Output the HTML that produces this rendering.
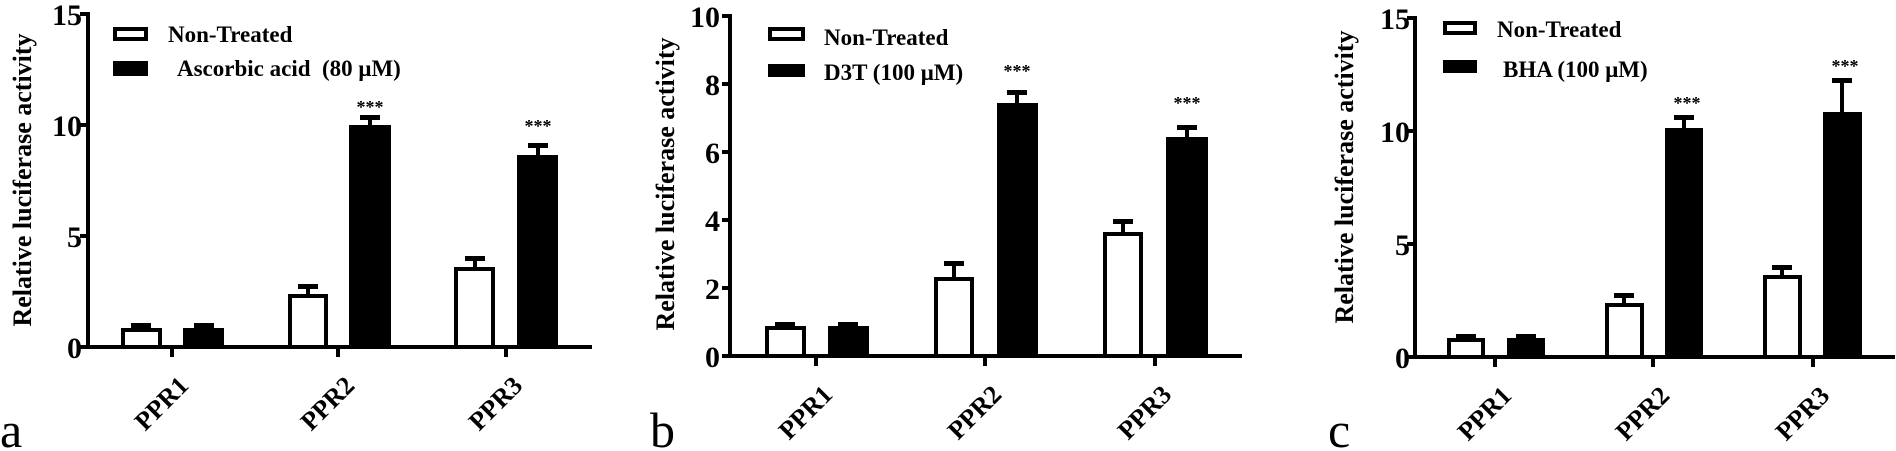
<!DOCTYPE html>
<html><head><meta charset="utf-8"><style>
html,body{margin:0;padding:0;background:#fff;}
svg{display:block;}
text{font-family:"Liberation Serif","DejaVu Serif",serif;font-weight:bold;fill:#000;}
.tl{font-size:30px;text-anchor:end;}
.xl{font-size:26px;text-anchor:end;}
.lg{font-size:23px;white-space:pre;}
.yl{font-size:26px;text-anchor:middle;}
.st{font-size:18px;text-anchor:middle;}
.pl{font-size:50px;font-weight:normal;}
</style></head><body>
<svg width="1896" height="451" viewBox="0 0 1896 451" xmlns="http://www.w3.org/2000/svg">
<g stroke="#000" stroke-width="4" fill="none">
<line x1="88" y1="12" x2="88" y2="349"/>
<line x1="86" y1="347" x2="592" y2="347"/>
<line x1="80" y1="14" x2="88" y2="14"/><line x1="80" y1="125" x2="88" y2="125"/><line x1="80" y1="236" x2="88" y2="236"/><line x1="80" y1="347" x2="88" y2="347"/>
<line x1="172" y1="347" x2="172" y2="357"/><line x1="338" y1="347" x2="338" y2="357"/><line x1="506" y1="347" x2="506" y2="357"/>
<line x1="730" y1="14" x2="730" y2="358"/>
<line x1="728" y1="356" x2="1242" y2="356"/>
<line x1="722" y1="16" x2="730" y2="16"/><line x1="722" y1="84" x2="730" y2="84"/><line x1="722" y1="152" x2="730" y2="152"/><line x1="722" y1="220" x2="730" y2="220"/><line x1="722" y1="288" x2="730" y2="288"/><line x1="722" y1="356" x2="730" y2="356"/>
<line x1="816" y1="356" x2="816" y2="366"/><line x1="985" y1="356" x2="985" y2="366"/><line x1="1155" y1="356" x2="1155" y2="366"/>
<line x1="1415" y1="16" x2="1415" y2="359"/>
<line x1="1413" y1="357" x2="1895" y2="357"/>
<line x1="1407" y1="18" x2="1415" y2="18"/><line x1="1407" y1="131" x2="1415" y2="131"/><line x1="1407" y1="244" x2="1415" y2="244"/><line x1="1407" y1="357" x2="1415" y2="357"/>
<line x1="1495" y1="357" x2="1495" y2="367"/><line x1="1653" y1="357" x2="1653" y2="367"/><line x1="1813" y1="357" x2="1813" y2="367"/>

<rect x="123" y="330" width="37" height="17"/>
<rect x="290" y="296" width="36" height="51"/>
<rect x="456" y="269" width="37" height="78"/>
<rect x="767" y="328" width="37" height="28"/>
<rect x="936" y="279" width="36" height="77"/>
<rect x="1105" y="234" width="36" height="122"/>
<rect x="1449" y="340" width="34" height="17"/>
<rect x="1607" y="305" width="35" height="52"/>
<rect x="1765" y="277" width="35" height="80"/>

<rect x="115" y="29" width="31" height="10"/>
<rect x="770" y="29" width="33" height="10"/>
<rect x="1445" y="23" width="30" height="10"/>

<g stroke-width="4">
<line x1="141" y1="328" x2="141" y2="325"/><line x1="204" y1="328" x2="204" y2="325"/>
<line x1="308" y1="294" x2="308" y2="286"/><line x1="370" y1="125" x2="370" y2="117"/>
<line x1="475" y1="267" x2="475" y2="258"/><line x1="538" y1="155" x2="538" y2="145"/>
<line x1="785" y1="326" x2="785" y2="323"/><line x1="848" y1="326" x2="848" y2="323"/>
<line x1="954" y1="277" x2="954" y2="263"/><line x1="1017" y1="103" x2="1017" y2="92"/>
<line x1="1123" y1="232" x2="1123" y2="221"/><line x1="1187" y1="137" x2="1187" y2="127"/>
<line x1="1466" y1="338" x2="1466" y2="335"/><line x1="1526" y1="338" x2="1526" y2="335"/>
<line x1="1624" y1="303" x2="1624" y2="295"/><line x1="1684" y1="128" x2="1684" y2="117"/>
<line x1="1782" y1="275" x2="1782" y2="267"/><line x1="1842" y1="112" x2="1842" y2="80"/>
</g>
</g>

<g fill="#000">
<rect x="183" y="328" width="41" height="19"/>
<rect x="349" y="125" width="42" height="222"/>
<rect x="517" y="155" width="41" height="192"/>
<rect x="828" y="326" width="41" height="30"/>
<rect x="997" y="103" width="41" height="253"/>
<rect x="1166" y="137" width="42" height="219"/>
<rect x="1507" y="338" width="38" height="19"/>
<rect x="1665" y="128" width="38" height="229"/>
<rect x="1823" y="112" width="39" height="245"/>
<rect x="131" y="323" width="20" height="5"/><rect x="194" y="323" width="20" height="5"/>
<rect x="298" y="284" width="20" height="5"/><rect x="360" y="115" width="20" height="5"/>
<rect x="465" y="256" width="20" height="5"/><rect x="528" y="143" width="20" height="5"/>
<rect x="775" y="322" width="20" height="5"/><rect x="838" y="322" width="20" height="5"/>
<rect x="944" y="261" width="20" height="5"/><rect x="1007" y="90" width="20" height="5"/>
<rect x="1113" y="219" width="20" height="5"/><rect x="1177" y="125" width="20" height="5"/>
<rect x="1456" y="334" width="20" height="5"/><rect x="1516" y="334" width="20" height="5"/>
<rect x="1614" y="293" width="20" height="5"/><rect x="1674" y="115" width="20" height="5"/>
<rect x="1772" y="265" width="20" height="5"/><rect x="1832" y="78" width="20" height="5"/>
<rect x="113" y="61" width="35" height="15"/>
<rect x="768" y="64" width="37" height="13"/>
<rect x="1443" y="60" width="34" height="13"/>
</g>

<text class="tl" x="82" y="25">15</text><text class="tl" x="82" y="136">10</text><text class="tl" x="82" y="247">5</text><text class="tl" x="82" y="358">0</text>
<text class="tl" x="720" y="27">10</text><text class="tl" x="720" y="95">8</text><text class="tl" x="720" y="163">6</text><text class="tl" x="720" y="231">4</text><text class="tl" x="720" y="299">2</text><text class="tl" x="720" y="367">0</text>
<text class="tl" x="1410" y="29">15</text><text class="tl" x="1410" y="142">10</text><text class="tl" x="1410" y="255">5</text><text class="tl" x="1410" y="368">0</text>

<text class="xl" transform="translate(190,387) rotate(-45)">PPR1</text>
<text class="xl" transform="translate(356,387) rotate(-45)">PPR2</text>
<text class="xl" transform="translate(524,387) rotate(-45)">PPR3</text>
<text class="xl" transform="translate(834,396) rotate(-45)">PPR1</text>
<text class="xl" transform="translate(1003,396) rotate(-45)">PPR2</text>
<text class="xl" transform="translate(1173,396) rotate(-45)">PPR3</text>
<text class="xl" transform="translate(1513,397) rotate(-45)">PPR1</text>
<text class="xl" transform="translate(1671,397) rotate(-45)">PPR2</text>
<text class="xl" transform="translate(1831,397) rotate(-45)">PPR3</text>

<text class="yl" transform="translate(31,180) rotate(-90)">Relative luciferase activity</text>
<text class="yl" transform="translate(674,184) rotate(-90)">Relative luciferase activity</text>
<text class="yl" transform="translate(1353,177) rotate(-90)">Relative luciferase activity</text>

<text class="lg" x="168" y="42">Non-Treated</text>
<text class="lg" x="177" y="76">Ascorbic acid  (80 μM)</text>
<text class="lg" x="824" y="45">Non-Treated</text>
<text class="lg" x="824" y="80">D3T (100 μM)</text>
<text class="lg" x="1497" y="37">Non-Treated</text>
<text class="lg" x="1503" y="77">BHA (100 μM)</text>

<text class="st" x="370" y="113">***</text>
<text class="st" x="538" y="132">***</text>
<text class="st" x="1017" y="77">***</text>
<text class="st" x="1187" y="109">***</text>
<text class="st" x="1687" y="109">***</text>
<text class="st" x="1845" y="72">***</text>

<text class="pl" x="0" y="447">a</text>
<text class="pl" x="650" y="447">b</text>
<text class="pl" x="1328" y="447">c</text>
</svg>
</body></html>
